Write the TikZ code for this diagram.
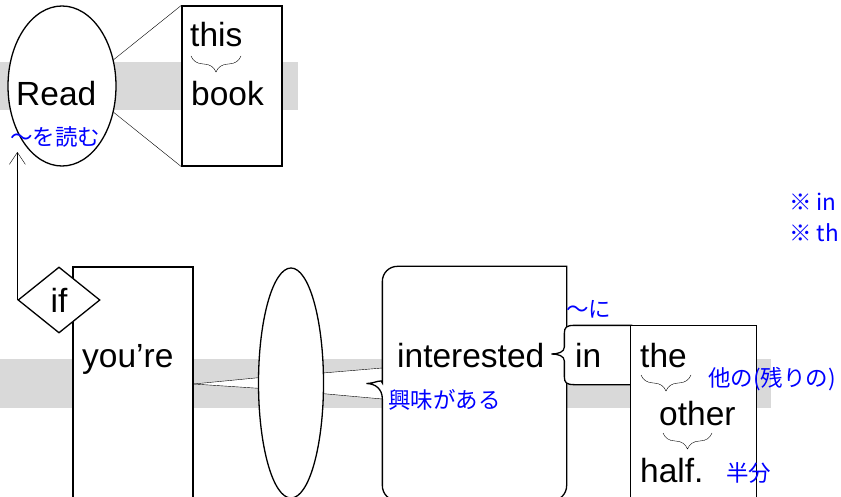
\documentclass[tikz,border=0pt]{standalone}
\usepackage{fontspec}
\setmainfont{Liberation Sans}
\newfontfamily\jpfont{Noto Sans CJK JP}
\usetikzlibrary{
    arrows.meta,
    backgrounds,
    decorations.pathreplacing,
    shapes.geometric
}
\definecolor{bandgray}{RGB}{217,217,217}
\definecolor{glossblue}{RGB}{0,0,255}
\tikzset{
    word/.style={inner sep=0, anchor=base west, font=\fontsize{33.5}{40}\selectfont},
    gloss/.style={inner sep=0, anchor=base west, text=glossblue, font=\jpfont\fontsize{22.5}{27}\selectfont},
    frame/.style={draw, fill=white, inner sep=0},
    underbrace/.style={decorate, decoration={brace, mirror, amplitude=16pt}}
}

\begin{document}
\begin{tikzpicture}[x=1pt, y=-1pt, line width=1.3pt]
            \useasboundingbox (0,0) rectangle (841,497);
            \clip (0,0) rectangle (841,497);

            \node[frame, ellipse, minimum width=108, minimum height=160] (read) at (62,86) {};
            \node[frame, minimum width=100, minimum height=160] (bookbox) at (232,86) {};
            \node[frame, minimum width=120, minimum height=234] (yourebox) at (133,384) {};
            \node[frame, diamond, minimum width=82, minimum height=66, font=\fontsize{33.5}{40}\selectfont] (ifnode) at (59,300) {if};
            \node[frame, ellipse, minimum width=65, minimum height=230] (midell) at (291,383) {};
            \node[inner sep=0, minimum width=183, minimum height=233] (intbox) at (474.5,383.5) {};
            \node[inner sep=0, minimum width=66, minimum height=58] (inbox) at (598,355) {};
            \node[inner sep=0, minimum width=125, minimum height=174] (otherbox) at (693.5,413) {};

            \draw[fill=white] (intbox.north east) [rounded corners=15pt] -- (intbox.north west) -- ([yshift=15.5pt]intbox.west)
                [sharp corners] .. controls +(0,10) and +(9,0) .. ([xshift=-16pt]intbox.west)
                .. controls +(9,0) and +(0,-10) .. ([yshift=-15.5pt]intbox.west)
                [rounded corners=15pt] -- (intbox.south west) -- (intbox.south east) [sharp corners] -- cycle;
            \draw[fill=white] (inbox.north east) -- ([xshift=10pt]inbox.north west)
                .. controls +(-8,0) and +(0,-6) .. ([yshift=-8pt]inbox.north west)
                -- ([yshift=8pt]inbox.west)
                .. controls +(0,5) and +(7,0) .. ([xshift=-13pt, yshift=1pt]inbox.west)
                .. controls +(7,0) and +(0,-5) .. ([yshift=-6pt]inbox.west)
                -- ([yshift=8pt]inbox.south west)
                .. controls +(0,6) and +(-8,0) .. ([xshift=10pt]inbox.south west)
                -- (inbox.south east) -- cycle;
            \draw[fill=white] (otherbox.north west) rectangle (otherbox.south east);

            \begin{pgfonlayer}{background}
                \fill[bandgray] (0,62) rectangle (298,110);
                \fill[bandgray] (0,359) rectangle (771,408);
                \fill[white] (yourebox.east) -- (midell.171) -- (midell.189) -- cycle;
                \fill[white] (midell.17) -- ([yshift=15.5pt]intbox.west) -- ([yshift=-15.5pt]intbox.west) -- (midell.-18) -- cycle;
            \end{pgfonlayer}

            \draw (read.27) -- (bookbox.north west);
            \draw (read.-27) -- (bookbox.south west);
            \draw (yourebox.east) -- (midell.171);
            \draw (yourebox.east) -- (midell.189);
            \draw (midell.17) -- ([yshift=15.5pt]intbox.west);
            \draw (midell.-18) -- ([yshift=-15.5pt]intbox.west);

            \node[word] (readtxt) at (16,106) {Read};
            \node[word] (thistxt) at (190,47) {this};
            \node[word] (booktxt) at (191,106) {book};
            \node[word] (youretxt) at (82,367) {you’re};
            \node[word] (interestedtxt) at (397,367) {interested};
            \node[word] (intxt) at (575,367) {in};
            \node[word] (thetxt) at (640,367) {the};
            \node[word] (othertxt) at (659,425) {other};
            \node[word] (halftxt) at (640,482) {half.};

            \node[gloss] (readgloss) at (10,146) {～を読む};
            \node[gloss] (interestedgloss) at (388,408) {興味がある};
            \node[gloss] (ingloss) at (566,317) {～に};
            \node[gloss] (othergloss) at (708,386) {他の(残りの)};
            \node[gloss] (halfgloss) at (726,481) {半分};
            \node[gloss] (noteone) at (789,211) {※ in};
            \node[gloss] (notetwo) at (789,242) {※ th};

            \draw[underbrace] (191,56) -- (241,56);
            \draw[underbrace] (641,375) -- (691,375);
            \draw[underbrace] (663,433) -- (712,433);

            \draw[->, >={Straight Barb[length=12pt, width=16pt]}, shorten >=4pt] (ifnode.west) -- (ifnode.west |- readgloss.south);
\end{tikzpicture}
\end{document}
